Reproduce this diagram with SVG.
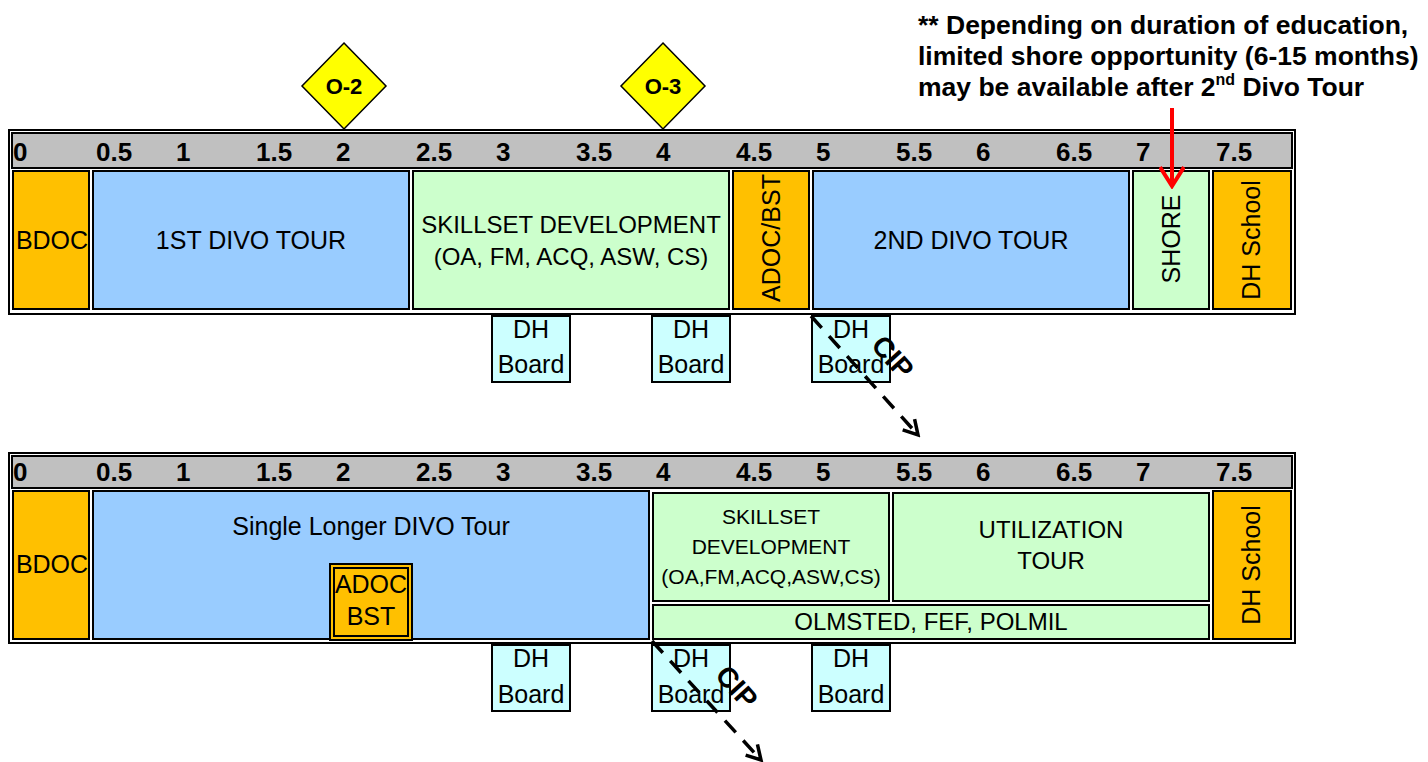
<svg xmlns="http://www.w3.org/2000/svg" width="1428" height="762" viewBox="0 0 1428 762">
<defs>
<style>
text{font-family:"Liberation Sans",Arial,sans-serif;fill:#000}
.num{font-size:26px;font-weight:bold}
.lbl{font-size:25px}
.md{font-size:24px}
.sm{font-size:21px}
.b{font-weight:bold}
.cell{stroke:#000;stroke-width:2}
.or{fill:#FFC000}
.bl{fill:#99CCFF}
.gr{fill:#CCFFCC}
.cy{fill:#CCFFFF}
.hdr{fill:#C0C0C0;stroke:#000;stroke-width:2}
.frame{fill:none;stroke:#000;stroke-width:2}
.dia{fill:#FFFF00;stroke:#000;stroke-width:1.5}
.cip{fill:none;stroke:#000;stroke-width:3.5;stroke-dasharray:16 11}
</style>
<marker id="chev" viewBox="0 0 20 20" refX="17" refY="10" markerWidth="20" markerHeight="20" markerUnits="userSpaceOnUse" orient="auto">
<path d="M3,2 L17,10 L3,18" fill="none" stroke="#000" stroke-width="3.5"/>
</marker>
<marker id="redchev" viewBox="0 0 26 26" refX="23" refY="13" markerWidth="26" markerHeight="26" markerUnits="userSpaceOnUse" orient="auto">
<path d="M4,1 L23,13 L4,25" fill="none" stroke="#FF0000" stroke-width="4"/>
</marker>
</defs>
<rect width="1428" height="762" fill="#fff"/>

<!-- note -->
<g id="note">
<text class="b" x="918" y="34" style="font-size:26.5px">** Depending on duration of education,</text>
<text class="b" x="918" y="65" style="font-size:26.5px">limited shore opportunity (6-15 months)</text>
<text class="b" x="918" y="96" style="font-size:26.5px">may be available after 2<tspan style="font-size:16px" dy="-11">nd</tspan><tspan dy="11"> Divo Tour</tspan></text>
</g>

<!-- milestones -->
<g id="o2"><polygon class="dia" points="344,43 386,86 344,129 302,86"/><text class="b" x="344" y="94" text-anchor="middle" style="font-size:22px">O-2</text></g>
<g id="o3"><polygon class="dia" points="663,43 705,86 663,129 621,86"/><text class="b" x="663" y="94" text-anchor="middle" style="font-size:22px">O-3</text></g>

<!-- TOP TIMELINE -->
<g id="timeline1">
<rect class="frame" x="9" y="130" width="1286" height="184"/>
<rect class="hdr" x="12" y="133" width="1280" height="35"/>
<g class="num">
<text x="13" y="161">0</text><text x="96" y="161">0.5</text><text x="176" y="161">1</text><text x="256" y="161">1.5</text>
<text x="336" y="161">2</text><text x="416" y="161">2.5</text><text x="496" y="161">3</text><text x="576" y="161">3.5</text>
<text x="656" y="161">4</text><text x="736" y="161">4.5</text><text x="816" y="161">5</text><text x="896" y="161">5.5</text>
<text x="976" y="161">6</text><text x="1056" y="161">6.5</text><text x="1136" y="161">7</text><text x="1216" y="161">7.5</text>
</g>
</g>
<g id="t1-bdoc"><rect class="cell or" x="13" y="171" width="76" height="138"/><text class="lbl" x="52" y="249" text-anchor="middle">BDOC</text></g>
<g id="t1-divo1"><rect class="cell bl" x="93" y="171" width="316" height="138"/><text class="lbl" x="251" y="249" text-anchor="middle">1ST DIVO TOUR</text></g>
<g id="t1-skill"><rect class="cell gr" x="413" y="171" width="316" height="138"/><text class="md" x="571" y="233" text-anchor="middle">SKILLSET DEVELOPMENT</text><text class="md" x="571" y="265" text-anchor="middle">(OA, FM, ACQ, ASW, CS)</text></g>
<g id="t1-adoc"><rect class="cell or" x="733" y="171" width="76" height="138"/><text class="lbl" transform="translate(771,238) rotate(-90)" text-anchor="middle" dy="0.35em">ADOC/BST</text></g>
<g id="t1-divo2"><rect class="cell bl" x="813" y="171" width="316" height="138"/><text class="lbl" x="971" y="249" text-anchor="middle">2ND DIVO TOUR</text></g>
<g id="t1-shore"><rect class="cell gr" x="1133" y="171" width="76" height="138"/><text class="lbl" transform="translate(1171,239) rotate(-90)" text-anchor="middle" dy="0.35em">SHORE</text></g>
<g id="t1-dhschool"><rect class="cell or" x="1213" y="171" width="78" height="138"/><text class="lbl" transform="translate(1251,240) rotate(-90)" text-anchor="middle" dy="0.35em">DH School</text></g>
<g id="t1-board1"><rect class="cell cy" x="492" y="316" width="78" height="66"/><text class="lbl" x="531" y="338" text-anchor="middle">DH</text><text class="lbl" x="531" y="373" text-anchor="middle">Board</text></g>
<g id="t1-board2"><rect class="cell cy" x="652" y="316" width="78" height="66"/><text class="lbl" x="691" y="338" text-anchor="middle">DH</text><text class="lbl" x="691" y="373" text-anchor="middle">Board</text></g>
<g id="t1-board3"><rect class="cell cy" x="812" y="316" width="78" height="66"/><text class="lbl" x="851" y="338" text-anchor="middle">DH</text><text class="lbl" x="851" y="373" text-anchor="middle">Board</text></g>

<!-- BOTTOM TIMELINE -->
<g id="timeline2">
<rect class="frame" x="9" y="453" width="1286" height="190"/>
<rect class="hdr" x="12" y="456" width="1280" height="32"/>
<g class="num">
<text x="13" y="481">0</text><text x="96" y="481">0.5</text><text x="176" y="481">1</text><text x="256" y="481">1.5</text>
<text x="336" y="481">2</text><text x="416" y="481">2.5</text><text x="496" y="481">3</text><text x="576" y="481">3.5</text>
<text x="656" y="481">4</text><text x="736" y="481">4.5</text><text x="816" y="481">5</text><text x="896" y="481">5.5</text>
<text x="976" y="481">6</text><text x="1056" y="481">6.5</text><text x="1136" y="481">7</text><text x="1216" y="481">7.5</text>
</g>
</g>
<g id="t2-bdoc"><rect class="cell or" x="13" y="491" width="76" height="148"/><text class="lbl" x="52" y="573" text-anchor="middle">BDOC</text></g>
<g id="t2-divo"><rect class="cell bl" x="93" y="491" width="556" height="148"/><text class="lbl" x="371" y="535" text-anchor="middle">Single Longer DIVO Tour</text></g>
<g id="t2-adoc"><rect class="cell or" x="330" y="564" width="82" height="76"/><rect fill="none" stroke="#000" stroke-width="2" x="334" y="568" width="74" height="68"/><text class="lbl" x="371" y="593" text-anchor="middle">ADOC</text><text class="lbl" x="371" y="625" text-anchor="middle">BST</text></g>
<g id="t2-skill"><rect class="cell gr" x="653" y="493" width="236" height="108"/><text class="sm" x="771" y="524" text-anchor="middle">SKILLSET</text><text class="sm" x="771" y="554" text-anchor="middle">DEVELOPMENT</text><text class="sm" x="771" y="584" text-anchor="middle">(OA,FM,ACQ,ASW,CS)</text></g>
<g id="t2-util"><rect class="cell gr" x="893" y="493" width="316" height="108"/><text class="md" x="1051" y="538" text-anchor="middle">UTILIZATION</text><text class="md" x="1051" y="569" text-anchor="middle">TOUR</text></g>
<g id="t2-olmsted"><rect class="cell gr" x="653" y="605" width="556" height="34"/><text class="md" x="931" y="630" text-anchor="middle">OLMSTED, FEF, POLMIL</text></g>
<g id="t2-dhschool"><rect class="cell or" x="1213" y="491" width="78" height="148"/><text class="lbl" transform="translate(1251,565) rotate(-90)" text-anchor="middle" dy="0.35em">DH School</text></g>
<g id="t2-board1"><rect class="cell cy" x="492" y="645" width="78" height="66"/><text class="lbl" x="531" y="667" text-anchor="middle">DH</text><text class="lbl" x="531" y="703" text-anchor="middle">Board</text></g>
<g id="t2-board2"><rect class="cell cy" x="652" y="645" width="78" height="66"/><text class="lbl" x="691" y="667" text-anchor="middle">DH</text><text class="lbl" x="691" y="703" text-anchor="middle">Board</text></g>
<g id="t2-board3"><rect class="cell cy" x="812" y="645" width="78" height="66"/><text class="lbl" x="851" y="667" text-anchor="middle">DH</text><text class="lbl" x="851" y="703" text-anchor="middle">Board</text></g>

<!-- connectors -->
<g id="connectors">
<line x1="1172" y1="108" x2="1172" y2="186" stroke="#FF0000" stroke-width="4" marker-end="url(#redchev)"/>
<line class="cip" x1="811" y1="316" x2="918" y2="435" marker-end="url(#chev)"/>
<text class="b" style="font-size:28px" transform="translate(893,357) rotate(48)" text-anchor="middle" dy="0.35em">CIP</text>
<line class="cip" x1="652" y1="641" x2="761" y2="760" marker-end="url(#chev)"/>
<text class="b" style="font-size:28px" transform="translate(737,687) rotate(48)" text-anchor="middle" dy="0.35em">CIP</text>
</g>
</svg>
